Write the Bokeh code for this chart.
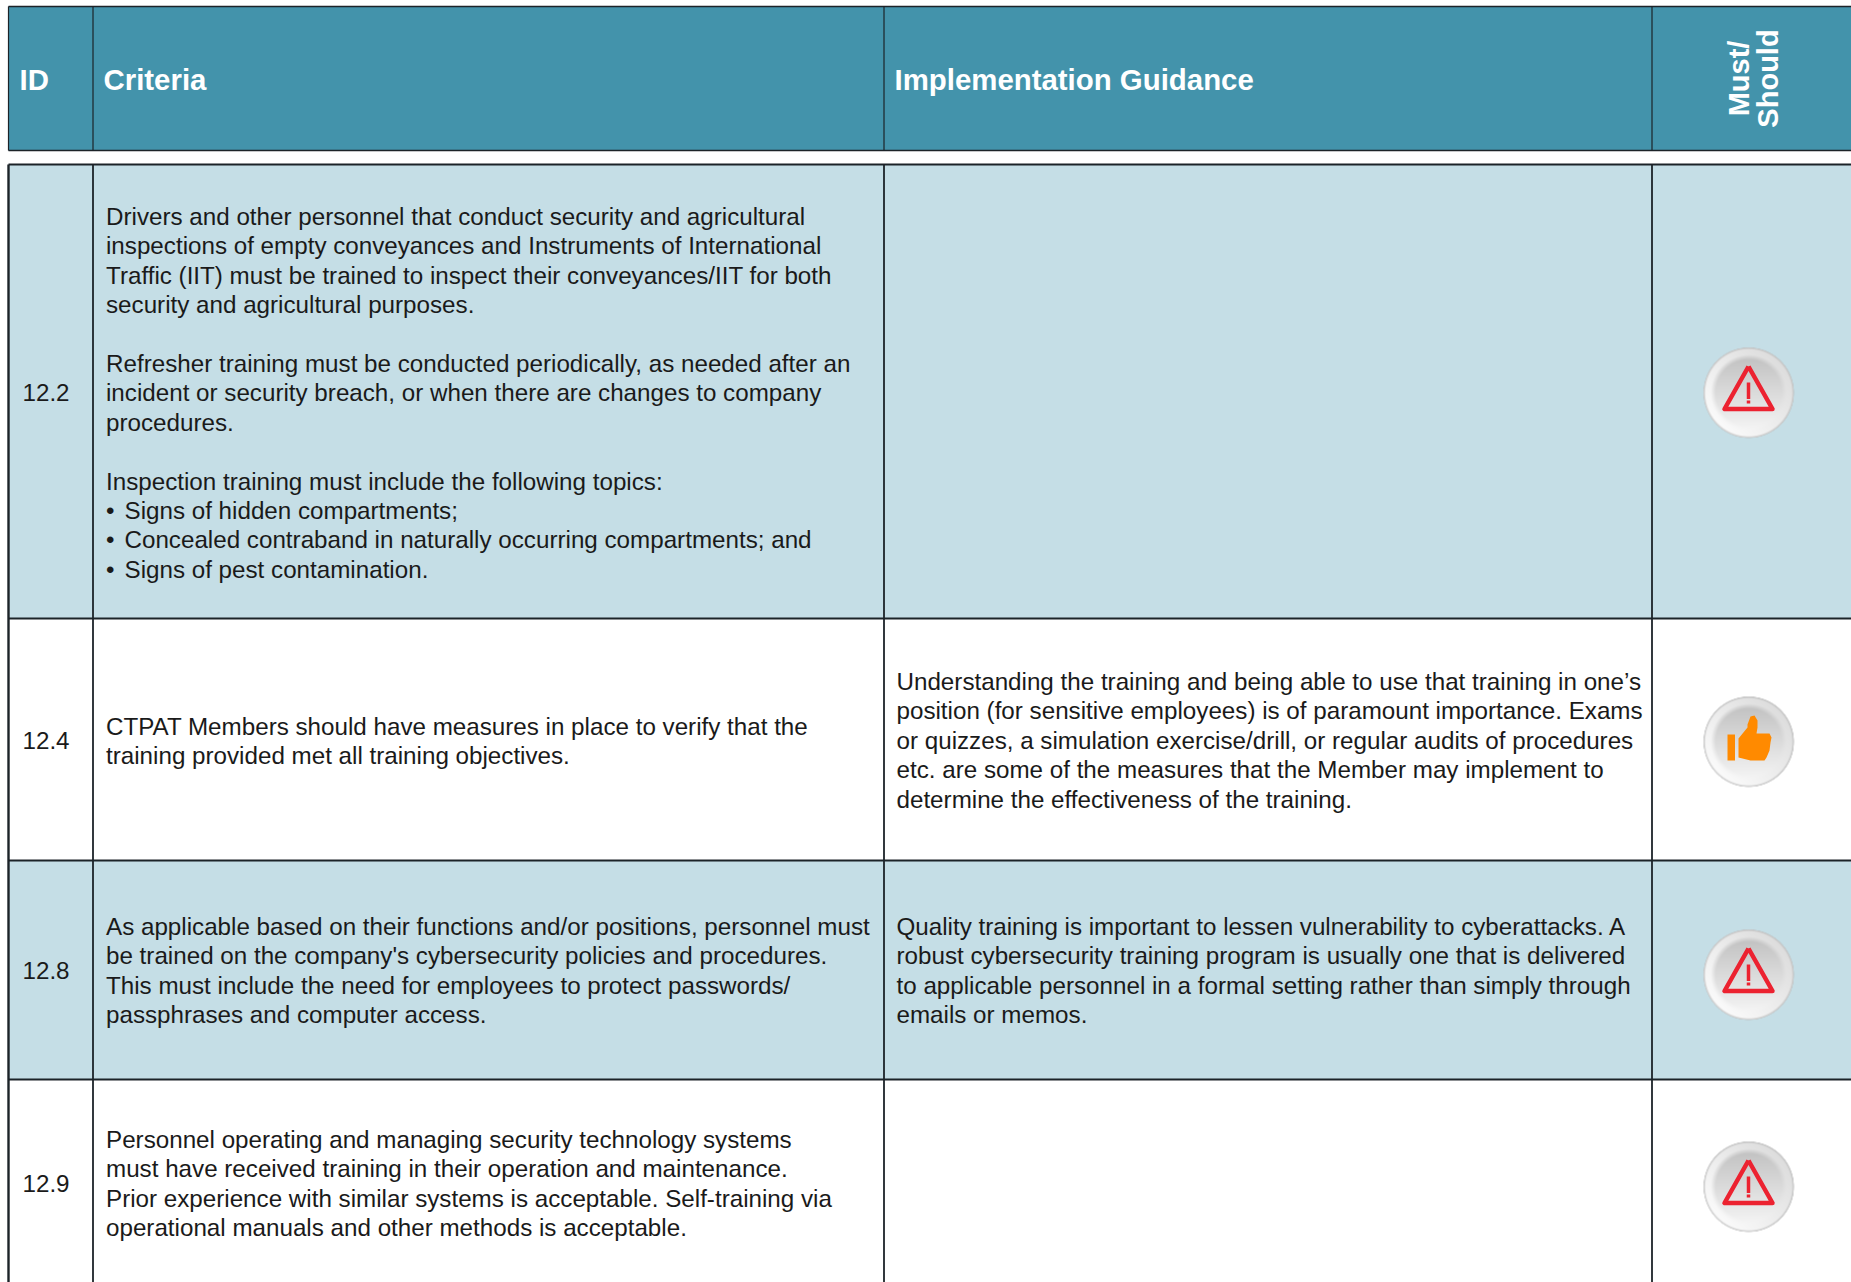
import numpy as np
from bokeh.embed import file_html
from bokeh.models import Range1d
from bokeh.plotting import figure
from bokeh.resources import INLINE
from bokeh.core.properties import value

W, H = 1851, 1282
FONT = "Liberation Sans"

# table structure
column_edges = [8, 92.5, 883.5, 1651.5, 1851]
header_top, header_bottom = 6, 150
row_edges = [164, 618, 860, 1079, 1282]
row_fills = ["#c5dee6", "#ffffff", "#c5dee6", "#ffffff"]
header_fill = "#4393ab"
line_color = "#1c2328"

headers = ["ID", "Criteria", "Implementation Guidance"]
header_x = [19, 103, 894]
header_baseline = 79
vertical_header = ["Must/", "Should"]
vertical_header_x = [1738, 1767]

ids = ["12.2", "12.4", "12.8", "12.9"]
id_baselines = [392, 740, 970, 1183]
id_x = 22

icons = ["warning", "thumb", "warning", "warning"]
icon_x = 1748
icon_y = [392, 741, 974, 1186]

criteria = [
    ["Drivers and other personnel that conduct security and agricultural",
     "inspections of empty conveyances and Instruments of International",
     "Traffic (IIT) must be trained to inspect their conveyances/IIT for both",
     "security and agricultural purposes.",
     "",
     "Refresher training must be conducted periodically, as needed after an",
     "incident or security breach, or when there are changes to company",
     "procedures.",
     "",
     "Inspection training must include the following topics:",
     "\u2022|Signs of hidden compartments;",
     "\u2022|Concealed contraband in naturally occurring compartments; and",
     "\u2022|Signs of pest contamination."],
    ["CTPAT Members should have measures in place to verify that the",
     "training provided met all training objectives."],
    ["As applicable based on their functions and/or positions, personnel must",
     "be trained on the company's cybersecurity policies and procedures.",
     "This must include the need for employees to protect passwords/",
     "passphrases and computer access."],
    ["Personnel operating and managing security technology systems",
     "must have received training in their operation and maintenance.",
     "Prior experience with similar systems is acceptable. Self-training via",
     "operational manuals and other methods is acceptable."],
]
criteria_first_baseline = [216, 725.5, 926, 1139]

guidance = [
    [],
    ["Understanding the training and being able to use that training in one\u2019s",
     "position (for sensitive employees) is of paramount importance. Exams",
     "or quizzes, a simulation exercise/drill, or regular audits of procedures",
     "etc. are some of the measures that the Member may implement to",
     "determine the effectiveness of the training."],
    ["Quality training is important to lessen vulnerability to cyberattacks. A",
     "robust cybersecurity training program is usually one that is delivered",
     "to applicable personnel in a formal setting rather than simply through",
     "emails or memos."],
    [],
]
guidance_first_baseline = [0, 681, 926, 0]
criteria_x, guidance_x = 105.5, 896
bullet_text_indent = 18.5
line_step = 29.4
body_size = "24.2px"
header_size = "29.4px"
vertical_size = "29px"
text_color = "#1a1a1a"

# icon outlines, relative to the button centre
warning_triangle_x = [0, -24, 24, 0]
warning_triangle_y = [-26, 16.5, 16.5, -26]
mark_y = [-10, 6.5]
mark_dot_y = [8, 11]
thumb_bar_x = [-21, -13.5, -13.5, -21]
thumb_bar_y = [-7, -7, 19, 19]
thumb_hand_x = [-10, -1, -1, 2, 6, 9, 9, 8, 21, 23, 22, 21, 18, 16, 2, -10]
thumb_hand_y = [-3, -14, -17, -25, -26, -21, -14, -8, -8, -4, 1, 9, 16, 19, 19, 16]

p = figure(width=W, height=H, output_backend="svg", toolbar_location=None,
           x_range=Range1d(0, W), y_range=Range1d(H, 0),
           x_axis_type=None, y_axis_type=None, min_border=0,
           outline_line_color=None, background_fill_color="#ffffff", border_fill_color="#ffffff")
p.grid.visible = False
p.styles = {"position": "absolute", "left": "0px", "top": "0px"}

# header band and body cells
p.quad(left=column_edges[0], right=W, top=header_top, bottom=header_bottom,
       fill_color=header_fill, line_color=None)
p.quad(left=[column_edges[0]] * 4, right=[W] * 4, top=row_edges[:-1], bottom=row_edges[1:],
       fill_color=row_fills, line_color=None)

# rules
p.segment(x0=column_edges[0], x1=W, y0=[header_top, header_bottom], y1=[header_top, header_bottom],
          line_color=line_color, line_width=1.6)
p.segment(x0=column_edges[:4], x1=column_edges[:4], y0=header_top, y1=header_bottom,
          line_color=line_color, line_width=1.2)
p.segment(x0=column_edges[0], x1=W, y0=row_edges[:-1], y1=row_edges[:-1],
          line_color=line_color, line_width=1.8)
p.segment(x0=column_edges[:4], x1=column_edges[:4], y0=row_edges[0], y1=row_edges[-1],
          line_color=line_color, line_width=[2.4, 1.8, 1.8, 1.8])


def put(xs, ys, texts, size, style="normal", color=text_color, **kw):
    p.text(x=xs, y=ys, text=texts, text_font=value(FONT), text_font_size=value(size),
           text_font_style=style, text_color=color, text_baseline="alphabetic", **kw)


put(header_x, [header_baseline] * 3, headers, header_size, "bold", "#ffffff")
put(vertical_header_x, [78, 78], vertical_header, vertical_size, "bold", "#ffffff",
    angle=np.pi / 2, text_align="center")
put([id_x] * 4, id_baselines, ids, body_size)

for block, firsts, x0 in ((criteria, criteria_first_baseline, criteria_x),
                          (guidance, guidance_first_baseline, guidance_x)):
    for lines, first in zip(block, firsts):
        xs, ys, ts = [], [], []
        for i, t in enumerate(lines):
            if not t:
                continue
            y = first + i * line_step
            if "|" in t:
                bullet, rest = t.split("|")
                xs += [x0, x0 + bullet_text_indent]
                ys += [y, y]
                ts += [bullet, rest]
            else:
                xs.append(x0)
                ys.append(y)
                ts.append(t)
        if ts:
            put(xs, ys, ts, body_size)


# button face: soft white ring around a vertical grey gradient
def button_image(radius=46, scale=2):
    n = 2 * radius * scale
    c = (np.arange(n) + 0.5) / scale - radius
    xx, yy = np.meshgrid(c, c)
    rr = np.hypot(xx, yy)
    ring = 236 + 18 * (-xx - yy) / (2 * radius) * 1.2
    face = 244 - 50 * (yy + 36) / 72
    blend = np.clip((rr - 33) / 5, 0, 1)
    grey = face * (1 - blend) + ring * blend
    edge = np.clip((rr - 43) / 2.5, 0, 1)
    grey = grey * (1 - edge) + 185 * edge
    alpha = np.clip((radius - 0.5 - rr) * scale, 0, 1) * 255
    img = np.zeros((n, n), dtype=np.uint32)
    v = img.view(np.uint8).reshape(n, n, 4)
    v[..., 0] = v[..., 1] = v[..., 2] = np.clip(grey, 0, 255).astype(np.uint8)
    v[..., 3] = alpha.astype(np.uint8)
    return img


btn = button_image()
for kind, cy in zip(icons, icon_y):
    p.image_rgba(image=[btn[::-1]], x=icon_x - 46, y=cy - 46, dw=92, dh=92)
    if kind == "warning":
        p.line([icon_x + d for d in warning_triangle_x], [cy + d for d in warning_triangle_y],
               line_color="#ec2230", line_width=4.5, line_join="round")
        p.line([icon_x, icon_x], [cy + d for d in mark_y], line_color="#ec2230", line_width=3.5)
        p.line([icon_x, icon_x], [cy + d for d in mark_dot_y], line_color="#ec2230", line_width=3.5)
    else:
        p.patch([icon_x + d for d in thumb_bar_x], [cy + d for d in thumb_bar_y],
                fill_color="#ff8a00", line_color=None)
        p.patch([icon_x + d for d in thumb_hand_x], [cy + d for d in thumb_hand_y],
                fill_color="#ff8a00", line_color=None)

open("out.html", "w").write(file_html(p, INLINE))
